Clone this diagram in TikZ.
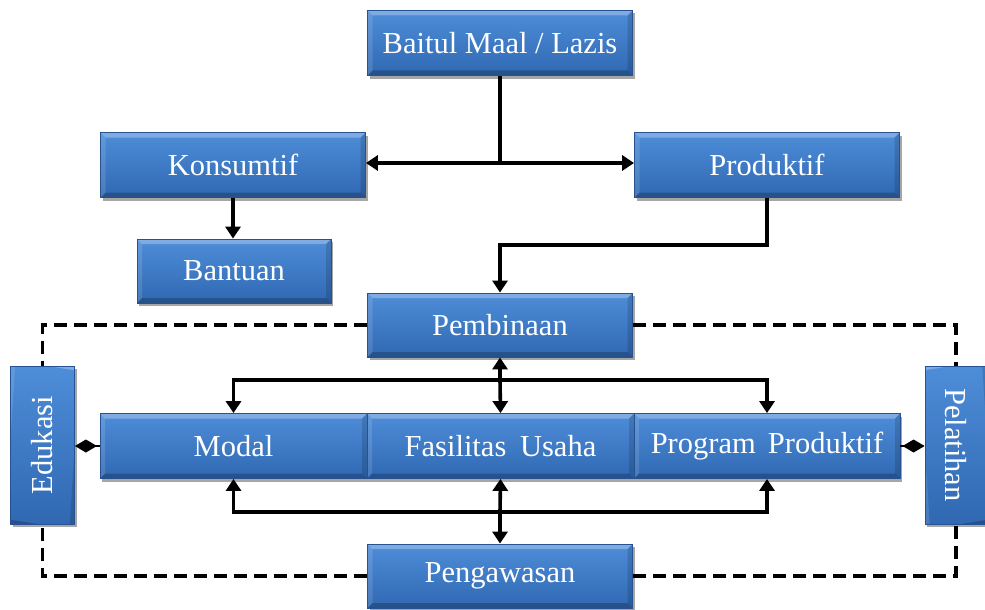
\documentclass[tikz,border=0pt]{standalone}
\usepackage{fontspec}
\setmainfont{Liberation Serif}
\usetikzlibrary{arrows.meta,shadows,calc}
\definecolor{boxtop}{RGB}{78,141,216}
\definecolor{boxbot}{RGB}{48,104,178}
\definecolor{boxedge}{RGB}{38,82,145}
\tikzset{
  blk/.style={draw=boxedge, line width=0.8pt, top color=boxtop, bottom color=boxbot,
    text=white, font=\fontsize{30.5}{33}\selectfont, inner sep=0pt,
    drop shadow={shadow xshift=2pt, shadow yshift=-3pt, opacity=0.35, fill=black},
    path picture={
      \fill[white,opacity=0.28] (path picture bounding box.north west) -- (path picture bounding box.north east)
        -- ([xshift=-5pt,yshift=-5pt]path picture bounding box.north east) -- ([xshift=5pt,yshift=-5pt]path picture bounding box.north west) -- cycle;
      \fill[white,opacity=0.12] (path picture bounding box.north west) -- (path picture bounding box.south west)
        -- ([xshift=5pt,yshift=5pt]path picture bounding box.south west) -- ([xshift=5pt,yshift=-5pt]path picture bounding box.north west) -- cycle;
      \fill[black,opacity=0.22] (path picture bounding box.south west) -- (path picture bounding box.south east)
        -- ([xshift=-5pt,yshift=5pt]path picture bounding box.south east) -- ([xshift=5pt,yshift=5pt]path picture bounding box.south west) -- cycle;
      \fill[black,opacity=0.14] (path picture bounding box.north east) -- (path picture bounding box.south east)
        -- ([xshift=-5pt,yshift=5pt]path picture bounding box.south east) -- ([xshift=-5pt,yshift=-5pt]path picture bounding box.north east) -- cycle;
    }},
  hbox/.style={blk, minimum width=265pt, minimum height=65pt},
  vbox/.style={blk, minimum width=158pt, minimum height=64pt},
  conn/.style={line width=3.6pt, draw=black},
  arr/.style={conn, -{Triangle[width=15pt,length=12pt]}},
  dashconn/.style={line width=3.6pt, draw=black, dash pattern=on 13pt off 7pt},
  dia/.style={line width=2pt, draw=black, -{Diamond[length=22pt,width=13pt]}}
}
\begin{document}
\begin{tikzpicture}[x=1pt,y=-1pt]
\useasboundingbox (0,0) rectangle (985,610);
\node[hbox] (baitul) at (500,43) {Baitul Maal / Lazis};
\node[hbox] (kons) at (233,165) {Konsumtif};
\node[hbox] (prod) at (767,165) {Produktif};
\node[blk, minimum width=194pt, minimum height=64pt] (bant) at (234,271) {Bantuan};
\node[vbox, rotate=90] (edu) at (42.5,445) {Edukasi};
\node[vbox, rotate=-90, minimum height=62pt] (pel) at (956,445) {Pelatihan};
% dashed frame (behind boxes)
\draw[dashconn] (367,325) -- (42.5,325) -- (edu.east);
\draw[dashconn] (633,325) -- (956,325) -- (pel.west);
\draw[dashconn] (367,576) -- (42.5,576) -- (edu.west);
\draw[dashconn] (633,576) -- (956,576) -- (pel.east);
\node[hbox, minimum height=64pt] (pemb) at (500,325) {Pembinaan};
\node[hbox, minimum height=64pt] (peng) at (500,576) {Pengawasan};
\node[hbox, minimum width=267pt] (modal) at (233.5,446) {Modal};
\node[hbox, minimum width=267pt] (fas) at (500.5,446) {Fasilitas\hspace{0.2em} Usaha};
\node[hbox, minimum width=266pt] (prog) at (767,446) {Program\hspace{0.15em} Produktif};
% connectors
\coordinate (j1) at (500,163);
\draw[conn] (baitul.south) -- (j1);
\draw[arr] (j1) -- (kons.east |- j1);
\draw[arr] (j1) -- (prod.west |- j1);
\draw[arr] (kons.south) -- (kons.south |- bant.north);
\coordinate (j2) at (500,245);
\draw[arr] (prod.south) |- (j2) -- (pemb.north);
\coordinate (j3) at (500,380);
\draw[arr] (j3) -- (pemb.south);
\draw[arr] (j3) -- (fas.north);
\draw[arr] (j3) -| (modal.north);
\draw[arr] (j3) -| (prog.north);
\coordinate (j4) at (500,512);
\draw[arr] (j4) -- (fas.south);
\draw[arr] (j4) -- (peng.north);
\draw[arr] (j4) -| (modal.south);
\draw[arr] (j4) -| (prog.south);
\draw[dia] (modal.west) -- (edu.south |- modal.west);
\draw[dia] (prog.east) -- (pel.south |- prog.east);
\end{tikzpicture}
\end{document}
